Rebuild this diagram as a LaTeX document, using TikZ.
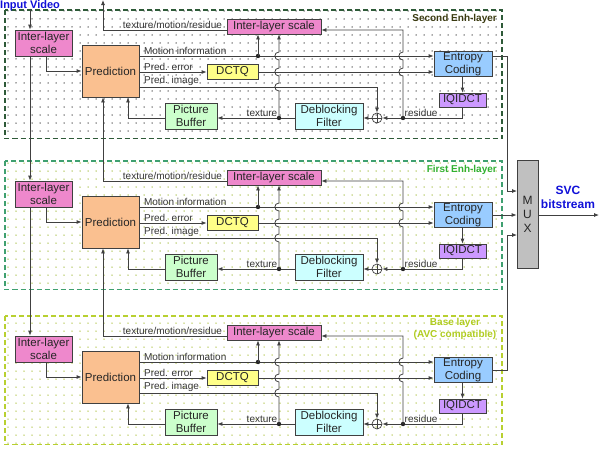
\documentclass[tikz,border=0pt]{standalone}
\usepackage{fontspec}
\setmainfont{Liberation Sans}
\usetikzlibrary{arrows.meta,patterns.meta}
\definecolor{cILS}{HTML}{EE88CC}
\definecolor{cPred}{HTML}{FAC090}
\definecolor{cDCTQ}{HTML}{FFFF88}
\definecolor{cPB}{HTML}{CCFFCC}
\definecolor{cDF}{HTML}{CCFFFF}
\definecolor{cEnt}{HTML}{99CCFF}
\definecolor{cIQ}{HTML}{CC99FF}
\definecolor{cMux}{HTML}{C0C0C0}
\definecolor{dashA}{HTML}{2E5A38}
\definecolor{dashB}{HTML}{3FA070}
\definecolor{dashC}{HTML}{B8D030}
\definecolor{dotA}{HTML}{505050}
\definecolor{dotB}{HTML}{A8C048}
\definecolor{dotC}{HTML}{B0C448}
\definecolor{lblA}{HTML}{3A3A10}
\definecolor{lblB}{HTML}{30B030}
\definecolor{lblC}{HTML}{B0CC20}
\definecolor{cBlue}{HTML}{1010D8}
\begin{document}
\begin{tikzpicture}[x=1pt,y=-1pt,
  box/.style={draw=black!75, line width=0.8pt, align=center, inner sep=0pt,
    text=black!85, font=\fontsize{11.5}{13.5}\selectfont},
  ilsbox/.style={box, fill=cILS},
  arr/.style={draw=black!75, line width=0.8pt, -{Latex[length=5pt,width=4pt]}},
  ln/.style={draw=black!75, line width=0.8pt},
  lbl/.style={font=\fontsize{10}{12}\selectfont, text=black!80, inner sep=1.5pt},
  layerlbl/.style={font=\fontsize{10}{12}\selectfont\bfseries, inner sep=0pt, align=center},
  dotpt/.style={fill=black!85}]
\useasboundingbox (0,0) rectangle (606,451);

\foreach \l/\s/\dc/\pc in {1/0/dashA/dotA,2/151/dashB/dotB,3/306/dashC/dotC}{
\begin{scope}[shift={(0,\s)}]
  % layer frame
  \path[pattern={Dots[distance=8pt,radius=0.75pt]}, pattern color=\pc] (5,10) rectangle (502,138.5);
  \draw[\dc, line width=1.3pt, dash pattern=on 5pt off 3pt] (5,10) rectangle (502,138.5);
  % blocks
  \node[ilsbox, minimum width=57pt, minimum height=26pt] (ilsA\l) at (43.5,43) {Inter-layer\\scale};
  \node[box, fill=cPred, minimum width=57pt, minimum height=52pt] (pred\l) at (110.5,71) {Prediction};
  \node[ilsbox, minimum width=94pt, minimum height=15pt] (ilsB\l) at (274,26.5) {Inter-layer scale};
  \node[box, fill=cDCTQ, minimum width=51pt, minimum height=15pt] (dctq\l) at (232.5,72) {DCTQ};
  \node[box, fill=cEnt, minimum width=58pt, minimum height=25pt] (ent\l) at (463,64) {Entropy\\Coding};
  \node[box, fill=cIQ, minimum width=47pt, minimum height=14pt] (iq\l) at (462.5,100) {IQIDCT};
  \node[box, fill=cDF, minimum width=68pt, minimum height=26pt] (df\l) at (329,116) {Deblocking\\Filter};
  \node[box, fill=cPB, minimum width=52pt, minimum height=26pt] (pb\l) at (191,116) {Picture\\Buffer};
  \node[draw=black!75, line width=0.7pt, circle, minimum size=10pt, inner sep=0pt] (sum\l) at (377,118) {};
  \draw[ln, line width=0.7pt] (sum\l.north) -- (sum\l.south) (sum\l.west) -- (sum\l.east);
  % coordinates
  \coordinate (mot\l) at (258,56);
  \coordinate (pim\l) at (377,87);
  \coordinate (tex\l) at (279,118);
  \coordinate (res\l) at (403,118);
  \coordinate (trm\l) at (103,30);
  \coordinate (rtop\l) at (403,30);
  \coordinate (pbl\l) at (128,118);
  % connectors
  \draw[arr] ([xshift=2.5pt]ilsA\l.south) |- (pred\l.west);
  \draw[ln] (ilsB\l.west |- trm\l) -- (trm\l);
  \node[lbl, anchor=south east] at ([xshift=-3pt]ilsB\l.west |- trm\l) {texture/motion/residue};
  \draw[arr] (pred\l.east |- mot\l) -- (ent\l.west |- mot\l);
  \node[lbl, anchor=south west] at ([xshift=3pt]pred\l.east |- mot\l) {Motion information};
  \fill[dotpt] (mot\l) circle (2.2pt);
  \draw[arr] (mot\l) -- (mot\l |- ilsB\l.south);
  \draw[arr] (pred\l.east |- dctq\l.west) -- (dctq\l.west);
  \node[lbl, anchor=south west] at ([xshift=3pt]pred\l.east |- dctq\l.west) {Pred. error};
  \draw[arr] (dctq\l.east) -- (ent\l.west |- dctq\l.east);
  \draw[arr] (pred\l.east |- pim\l) -- (pim\l) -- (sum\l.north);
  \node[lbl, anchor=south west] at ([xshift=3pt]pred\l.east |- pim\l) {Pred. image};
  \draw[arr] (ent\l.south -| iq\l.south) -- (iq\l.north);
  \draw[arr] (iq\l.south) |- (sum\l.east);
  \fill[dotpt] (res\l) circle (2.2pt);
  \node[lbl, anchor=south west] at (res\l) {residue};
  \draw[arr] (sum\l.west) -- (df\l.east |- sum\l.west);
  \draw[arr] (df\l.west |- tex\l) -- (pb\l.east |- tex\l);
  \fill[dotpt] (tex\l) circle (2.2pt);
  \node[lbl, anchor=south east] at (tex\l) {texture};
  \draw[arr] (pb\l.west |- tex\l) -- (pbl\l) -- (pbl\l |- pred\l.south);
  \draw[arr] (tex\l) -- (279,91) .. controls (273.5,91) and (273.5,83) .. (279,83)
     -- (279,76) .. controls (273.5,76) and (273.5,68) .. (279,68)
     -- (279,60) .. controls (273.5,60) and (273.5,52) .. (279,52)
     -- (tex\l |- ilsB\l.south);
  \draw[arr] (res\l) -- (403,76) .. controls (397.5,76) and (397.5,68) .. (403,68)
     -- (403,60) .. controls (397.5,60) and (397.5,52) .. (403,52)
     -- (rtop\l) -- (ilsB\l.east |- rtop\l);
\end{scope}
}

% layer labels
\node[layerlbl, text=lblA, anchor=east] at (497,19) {Second Enh-layer};
\node[layerlbl, text=lblB, anchor=east] at (497,170) {First Enh-layer};
\node[layerlbl, text=lblC] at (455,329) {Base layer\\(AVC compatible)};

% input video
\coordinate (top) at (103,0);
\node[anchor=base west, inner sep=0pt, text=cBlue, font=\fontsize{11}{13}\selectfont\bfseries] (iv) at (0,8.5) {Input Video};
\coordinate (in) at (30,8.5);
\draw[arr] (in) -- (in |- ilsA1.north);
\draw[arr] (ilsA1.south -| in) -- (in |- ilsA2.north);
\draw[arr] (ilsA2.south -| in) -- (in |- ilsA3.north);

% inter-layer to prediction
\draw[arr] (trm1) -- (top);
\draw[arr] (trm2) -- (trm2 |- pred1.south);
\draw[arr] (trm3) -- (trm3 |- pred2.south);

% MUX
\node[box, fill=cMux, minimum width=21pt, minimum height=108pt, font=\fontsize{12}{14}\selectfont] (mux) at (527.5,214) {M\\U\\X};
\coordinate (mxa) at (507,56);
\coordinate (mxc) at (507,370);
\coordinate (mina) at (517,191);
\coordinate (minc) at (517,235);
\coordinate (out) at (599,215);
\draw[arr] (ent1.east |- mxa) -- (mxa) -- (mxa |- mina) -- (mina);
\draw[arr] (ent2.east) -- (mux.west |- ent2.east);
\draw[arr] (ent3.east |- mxc) -- (mxc) -- (mxc |- minc) -- (minc);
\draw[arr] (mux.east |- out) -- (out);
\node[text=cBlue, align=center, inner sep=0pt, font=\fontsize{12}{14}\selectfont\bfseries] (svc) at (568,197) {SVC\\bitstream};
\end{tikzpicture}
\end{document}
